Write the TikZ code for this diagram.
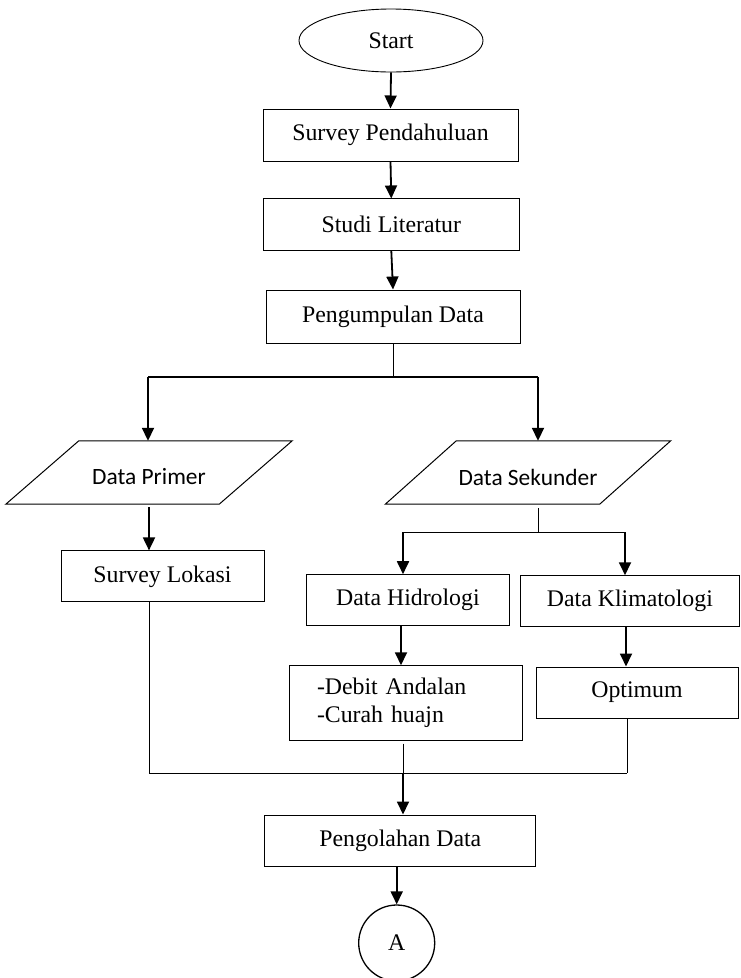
\documentclass[tikz,border=0pt]{standalone}
\usepackage{fontspec}
\setmainfont{Liberation Serif}
\newfontfamily\calibri{Carlito}
\usetikzlibrary{shapes.geometric,arrows.meta,calc}
\begin{document}
\begin{tikzpicture}[x=1pt,y=-1pt,
  txt/.style={font=\fontsize{23.8}{28}\selectfont},
  box/.style={draw, line width=1pt, rectangle, inner sep=0pt, txt},
  para/.style={rectangle, inner sep=0pt},
  sanslabel/.style={font=\calibri\fontsize{23.4}{27}\selectfont, inner sep=0pt},
  arr/.style={line width=1.8pt, -{Triangle[length=13pt,width=12pt]}},
  ln/.style={line width=1pt},
  ]
\useasboundingbox (0,0) rectangle (741,978);

% top chain
\node[draw, ellipse, line width=0.9pt, minimum width=184pt, minimum height=63pt, inner sep=0pt, txt] (start) at (391,40.5) {Start};
\node[box, minimum width=255pt, minimum height=52pt] (s1) at (390.5,135) {Survey Pendahuluan};
\node[box, minimum width=256pt, minimum height=51.5pt] (s2) at (391.3,224.7) {Studi Literatur};
\node[box, minimum width=254pt, minimum height=53pt] (s3) at (393,316.5) {Pengumpulan Data};

\draw[arr] (start.south) -- (s1.north);
\draw[arr] (s1.south) -- (s2.north);
\draw[arr] (s2.south) -- (s3.north);

% split 1
\coordinate (jL) at (148,377);
\coordinate (jR) at (538,377);
\draw[ln] (s3.south) -- (s3.south |- jL);
\draw[line width=1.3pt] (jL) -- (jR);

% parallelograms
\node[para, minimum width=213pt, minimum height=63pt] (dp) at (149,472.5) {};
\draw[line width=1pt] ([xshift=36.5pt]dp.north west) -- ([xshift=36.5pt]dp.north east)
  -- ([xshift=-36.5pt]dp.south east) -- ([xshift=-36.5pt]dp.south west) -- cycle;
\node[sanslabel] (dpt) at (149,477) {Data Primer};

\node[para, minimum width=214pt, minimum height=63pt] (ds) at (528,472.5) {};
\draw[line width=1pt] ([xshift=35.5pt]ds.north west) -- ([xshift=35.5pt]ds.north east)
  -- ([xshift=-35.5pt]ds.south east) -- ([xshift=-35.5pt]ds.south west) -- cycle;
\node[sanslabel] (dst) at (528,477) {Data Sekunder};

\draw[arr] (jL) -- (jL |- dp.north);
\draw[arr] (jR) -- (jR |- ds.north);

% left branch
\node[box, minimum width=203pt, minimum height=51pt] (sl) at (162.5,576.4) {Survey Lokasi};
\draw[arr] ([yshift=-3pt]dp.south) -- (dp.south |- sl.north);

% right branch split
\coordinate (kL) at (403,532);
\coordinate (kR) at (625,532);
\coordinate (kM) at (538,532);
\draw[ln] ([yshift=-4pt]kM |- ds.south) -- (kM);
\draw[ln] (kL) -- (kR);

\node[box, minimum width=202.3pt, minimum height=51pt] (dh) at (407.9,600.2) {Data Hidrologi};
\node[box, minimum width=218.3pt, minimum height=50.3pt] (dk) at (629.9,600.9) {Data Klimatologi};
\draw[arr] (kL) -- (kL |- dh.north);
\draw[arr] (kR) -- (kR |- dk.north);

\node[box, minimum width=233pt, minimum height=74.3pt, text width=177pt, inner xsep=28pt, align=left] (da) at (405.5,702.9) {-Debit Andalan\\-Curah huajn};
\node[box, minimum width=202pt, minimum height=51pt] (op) at (637,692.5) {Optimum};
\coordinate (hx) at (401,0);
\coordinate (kx) at (626,0);
\draw[arr] (hx |- dh.south) -- (hx |- da.north);
\draw[arr] (kx |- dk.south) -- (kx |- op.north);

% merge
\coordinate (bL) at (149,773);
\coordinate (bM) at (403,773);
\coordinate (bR) at (627,773);
\draw[ln] (sl.south -| bL) -- (bL);
\draw[ln] ([yshift=-3pt]da.south -| bM) -- (bM);
\draw[ln] (op.south -| bR) -- (bR);
\draw[ln] (bL) -- (bR);

\node[box, minimum width=271.3pt, minimum height=51pt] (pg) at (400.3,840.5) {Pengolahan Data};
\draw[arr] (bM) -- (bM |- pg.north);

\node[draw, circle, line width=1.3pt, minimum size=76pt, inner sep=0pt, txt] (A) at (396.7,943) {A};
\draw[arr] (A.north |- pg.south) -- (A.north);
\end{tikzpicture}
\end{document}
